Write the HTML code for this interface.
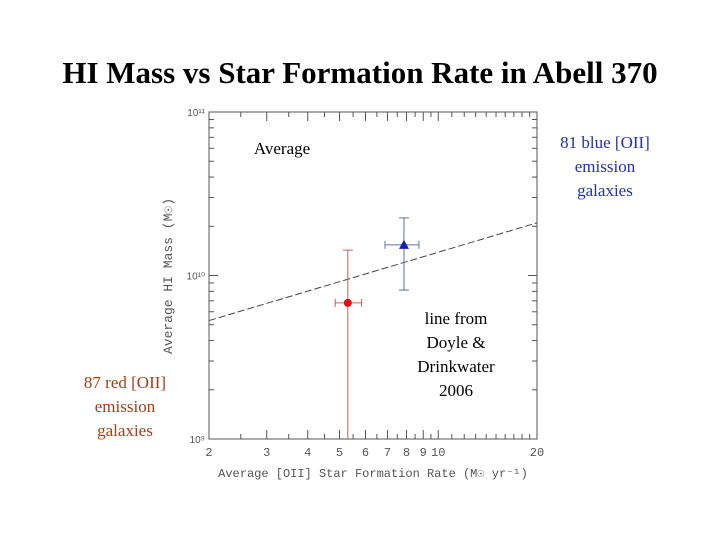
<!DOCTYPE html>
<html><head><meta charset="utf-8"><style>
body{margin:0;background:#fff;width:720px;height:540px;overflow:hidden;position:relative;font-family:"Liberation Serif",serif}
.t{position:absolute;text-align:center;font-size:17px;line-height:24px}
</style></head><body>
<div style="position:absolute;left:0;width:720px;top:55px;text-align:center;font-size:31px;font-weight:bold;">HI Mass vs Star Formation Rate in Abell 370</div>
<svg id="c" width="720" height="540" style="position:absolute;left:0;top:0"></svg>
<div class="t" style="left:232px;top:137px;width:100px">Average</div>
<div class="t" style="left:545px;top:131px;width:120px;color:#2233aa">81 blue [OII]<br>emission<br>galaxies</div>
<div class="t" style="left:65px;top:371px;width:120px;color:#a0401a">87 red [OII]<br>emission<br>galaxies</div>
<div class="t" style="left:396px;top:307px;width:120px">line from<br>Doyle &amp;<br>Drinkwater<br>2006</div>
<script>
const names=['red','blue'];
const sfr=[5.3,7.86], sfrLo=[4.85,6.88], sfrHi=[5.84,8.73];
const mass=[6.8e9,1.54e10], massLo=[1e8,8.15e9], massHi=[1.43e10,2.25e10];
const colors=['#dd1111','#1122aa'], errColors=['#c06060','#6070a0'];
const lineX=[2,20], lineY=[5.3e9,2.1e10];
const xTicks=[2,3,4,5,6,7,8,9,10,20], xTickLabels=['2','3','4','5','6','7','8','9','10','20'];
const L=209,R=537,T=112,B=439;
const xs=v=>L+(Math.log10(v/2))*(R-L);
const ys=v=>B-(Math.log10(v)-9)/2*(B-T);
const s=document.getElementById('c');const NS='http://www.w3.org/2000/svg';
function el(t,a,p){const e=document.createElementNS(NS,t);for(const k in a)e.setAttribute(k,a[k]);(p||s).appendChild(e);return e;}
const g=el('g',{stroke:'#555','stroke-width':1,fill:'none'});


const fr=el('rect',{x:L,y:T,width:R-L,height:B-T},g);


for(let d=9;d<=10;d++)for(let m=1;m<=10;m++){const v=m*Math.pow(10,d);if(v>1e11)continue;const y=ys(v),len=(m==1||m==10)?9:5;
el('line',{x1:L,x2:L+len,y1:y,y2:y},g);el('line',{x1:R,x2:R-len,y1:y,y2:y},g);}
const xm=[2,2.5,3,3.5,4,4.5,5,5.5,6,6.5,7,7.5,8,8.5,9,9.5,10,11,12,13,14,15,16,17,18,19,20];
xm.forEach(v=>{const x=xs(v),len=xTicks.includes(v)?9:5;el('line',{x1:x,x2:x,y1:B,y2:B-len},g);el('line',{x1:x,x2:x,y1:T,y2:T+len},g);});
xTicks.forEach((v,i)=>{const t=el('text',{x:xs(v),y:B+17,'text-anchor':'middle','font-size':12,fill:'#555','font-family':'Liberation Mono, monospace'});t.textContent=xTickLabels[i];

});
[[9,'10⁹'],[10,'10¹⁰'],[11,'10¹¹']].forEach(([p,l])=>{const t=el('text',{x:L-4,y:ys(Math.pow(10,p))+4,'text-anchor':'end','font-size':10,fill:'#555','font-family':'Liberation Sans, sans-serif'});t.textContent=l;

});
const xt=el('text',{x:373,y:477,'text-anchor':'middle','font-size':12,fill:'#555','font-family':'Liberation Mono, monospace'});xt.textContent='Average [OII] Star Formation Rate (M☉ yr⁻¹)';


const yt=el('text',{x:0,y:0,'text-anchor':'middle','font-size':13,fill:'#555','font-family':'Liberation Mono, monospace',transform:'translate(172,276) rotate(-90)'});yt.textContent='Average HI Mass (M☉)';


const dl=el('line',{x1:xs(lineX[0]),y1:ys(lineY[0]),x2:xs(lineX[1]),y2:ys(lineY[1]),stroke:'#444','stroke-width':1,'stroke-dasharray':'7,3'});


names.forEach((n,i)=>{const c=errColors[i];const x=xs(sfr[i]),y=ys(mass[i]);
const yl=Math.min(ys(massLo[i]),B);
el('line',{x1:x,x2:x,y1:ys(massHi[i]),y2:yl,stroke:c});
el('line',{x1:x-5,x2:x+5,y1:ys(massHi[i]),y2:ys(massHi[i]),stroke:c});
if(massLo[i]>1e9)el('line',{x1:x-5,x2:x+5,y1:ys(massLo[i]),y2:ys(massLo[i]),stroke:c});
el('line',{x1:xs(sfrLo[i]),x2:xs(sfrHi[i]),y1:y,y2:y,stroke:c});
el('line',{x1:xs(sfrLo[i]),x2:xs(sfrLo[i]),y1:y-4,y2:y+4,stroke:c});
el('line',{x1:xs(sfrHi[i]),x2:xs(sfrHi[i]),y1:y-4,y2:y+4,stroke:c});
let m;
if(i==0)m=el('circle',{cx:x,cy:y,r:4,fill:colors[i]});
else m=el('polygon',{points:`${x},${y-5} ${x-5},${y+4} ${x+5},${y+4}`,fill:colors[i]});

});
</script>
</body></html>
